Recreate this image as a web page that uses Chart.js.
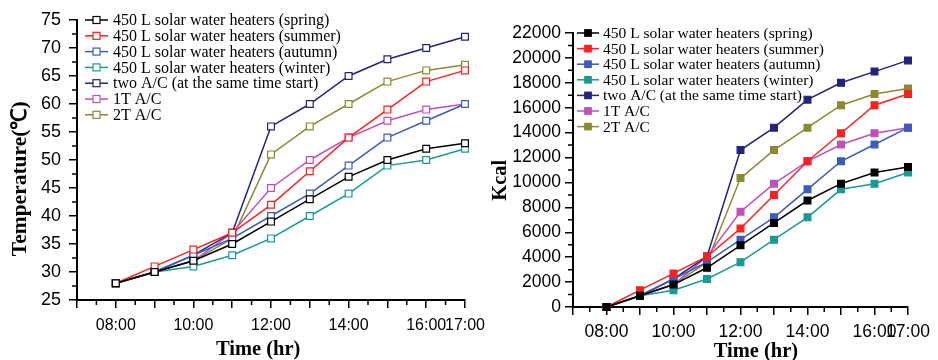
<!DOCTYPE html>
<html>
<head>
<meta charset="utf-8">
<script src="https://cdn.jsdelivr.net/npm/chart.js@4.4.1/dist/chart.umd.min.js"></script>
<style>
  body { margin: 0; background: #fff; overflow: hidden; }
  #left { position: absolute; left: 0; top: 0; width: 500px; height: 360px; }
  #right { position: absolute; left: 480px; top: 0; width: 458px; height: 360px; }
</style>
</head>
<body>
<div id="left"><canvas id="tempChart"></canvas></div>
<div id="right"><canvas id="kcalChart"></canvas></div>
<script>
// hours of the day (x values)
const hours = [8, 9, 10, 11, 12, 13, 14, 15, 16, 17];
const hourLabels = { 8: '08:00', 10: '10:00', 12: '12:00', 14: '14:00', 16: '16:00', 17: '17:00' };

const seriesNames = [
    '450 L solar water heaters (spring)',
    '450 L solar water heaters (summer)',
    '450 L solar water heaters (autumn)',
    '450 L solar water heaters (winter)',
    'two A/C (at the same time start)',
    '1T A/C',
    '2T A/C'
];
const seriesColors = ['#000000', '#ff1f1f', '#3b5bbf', '#1a9a94', '#23237e', '#c050b8', '#8a8a2e'];

// temperature (°C)
const tempSpring = [28, 30, 32, 35, 39, 43, 47, 50, 52, 53];
const tempSummer = [28, 31, 34, 37, 42, 48, 54, 59, 64, 66];
const tempAutumn = [28, 30, 33, 36, 40, 44, 49, 54, 57, 60];
const tempWinter = [28, 30, 31, 33, 36, 40, 44, 49, 50, 52];
const tempTwoAC = [28, 30, 33, 37, 56, 60, 65, 68, 70, 72];
const temp1T = [28, 30, 32, 37, 45, 50, 54, 57, 59, 60];
const temp2T = [28, 30, 32, 36, 51, 56, 60, 64, 66, 67];

// heat (Kcal)
const kcalSpring = [0, 900, 1800, 3150, 4950, 6750, 8550, 9900, 10800, 11250];
const kcalSummer = [0, 1350, 2700, 4050, 6300, 9000, 11700, 13950, 16200, 17100];
const kcalAutumn = [0, 900, 2250, 3600, 5400, 7200, 9450, 11700, 13050, 14400];
const kcalWinter = [0, 900, 1350, 2250, 3600, 5400, 7200, 9450, 9900, 10800];
const kcalTwoAC = [0, 900, 2250, 4050, 12600, 14400, 16650, 18000, 18900, 19800];
const kcal1T = [0, 900, 1800, 4050, 7650, 9900, 11700, 13050, 13950, 14400];
const kcal2T = [0, 900, 1800, 3600, 10350, 12600, 14400, 16200, 17100, 17550];

const tempSeries = [tempSpring, tempSummer, tempAutumn, tempWinter, tempTwoAC, temp1T, temp2T];
const kcalSeries = [kcalSpring, kcalSummer, kcalAutumn, kcalWinter, kcalTwoAC, kcal1T, kcal2T];

// non-breaking spaces, used to nudge the axis titles off-centre like the original
const pad = n => '\u00a0'.repeat(n);

// minor ticks between the major ones
const minorTicks = {
    id: 'minorTicks',
    afterDraw(chart, args, opts) {
        const ctx = chart.ctx;
        const xs = chart.scales.x, ys = chart.scales.y;
        ctx.save();
        ctx.strokeStyle = '#000';
        ctx.lineWidth = 1.5;
        ctx.beginPath();
        for (let v = xs.min + 0.5; v < xs.max; v += 1) {
            const px = xs.getPixelForValue(v);
            ctx.moveTo(px, xs.top);
            ctx.lineTo(px, xs.top + opts.len);
        }
        for (let v = ys.min + opts.yStep; v < ys.max; v += opts.yStep * 2) {
            const py = ys.getPixelForValue(v);
            ctx.moveTo(ys.right, py);
            ctx.lineTo(ys.right - opts.len, py);
        }
        ctx.stroke();
        ctx.restore();
    }
};

// legend drawn inside the plot area
const insideLegend = {
    id: 'insideLegend',
    afterDraw(chart, args, opts) {
        const ctx = chart.ctx;
        ctx.save();
        ctx.font = opts.font;
        ctx.textBaseline = 'middle';
        chart.data.datasets.forEach((ds, i) => {
            const y = opts.y + i * opts.rowH;
            ctx.strokeStyle = ds.borderColor;
            ctx.lineWidth = 1.5;
            ctx.beginPath();
            ctx.moveTo(opts.x, y);
            ctx.lineTo(opts.x + opts.lineLen, y);
            ctx.stroke();
            const s = opts.box;
            const cx = opts.x + opts.lineLen / 2;
            ctx.fillStyle = ds.pointBackgroundColor;
            ctx.fillRect(cx - s / 2, y - s / 2, s, s);
            ctx.lineWidth = 1.2;
            ctx.strokeRect(cx - s / 2, y - s / 2, s, s);
            ctx.fillStyle = '#000';
            ctx.fillText(ds.label, opts.x + opts.lineLen + opts.gap, y + 1);
        });
        ctx.restore();
    }
};

function makeDatasets(series, filled) {
    return series.map((vals, i) => ({
        label: seriesNames[i],
        data: hours.map((h, j) => ({ x: h, y: vals[j] })),
        borderColor: seriesColors[i],
        backgroundColor: seriesColors[i],
        pointBackgroundColor: filled ? seriesColors[i] : '#ffffff',
        pointBorderColor: seriesColors[i],
        borderWidth: 1.5,
        pointStyle: 'rect',
        pointRadius: 4.8,
        pointBorderWidth: 1.2,
        tension: 0,
        clip: false
    }));
}

function drawChart(canvasId, series, cfg) {
    const ctx = document.getElementById(canvasId).getContext('2d');
    return new Chart(ctx, {
        type: 'line',
        data: { datasets: makeDatasets(series, cfg.filled) },
        options: {
            responsive: true,
            maintainAspectRatio: false,
            animation: false,
            events: [],
            layout: { padding: cfg.padding },
            plugins: {
                legend: { display: false },
                tooltip: { enabled: false },
                minorTicks: { len: 5, yStep: cfg.yStep / 2 },
                insideLegend: cfg.legend
            },
            scales: {
                x: {
                    type: 'linear',
                    min: 7,
                    max: 17,
                    afterFit: s => { s.height = cfg.xHeight; },
                    ticks: {
                        stepSize: 1,
                        autoSkip: false,
                        maxRotation: 0,
                        padding: cfg.xPad,
                        color: '#000',
                        font: { family: 'Liberation Sans', size: cfg.xFont },
                        callback: v => hourLabels[v] || ''
                    },
                    grid: { drawOnChartArea: false, drawTicks: true, tickLength: 8, color: '#000', lineWidth: 1.5 },
                    border: { display: true, color: '#000', width: 2 },
                    title: {
                        display: true,
                        text: cfg.xTitle,
                        color: '#000',
                        font: { family: 'Liberation Serif', size: 20.5, weight: 'bold', lineHeight: 1 },
                        padding: { top: 0, bottom: cfg.xTitlePad }
                    }
                },
                y: {
                    type: 'linear',
                    min: cfg.yMin,
                    max: cfg.yMax,
                    afterFit: s => { s.width = cfg.yWidth; },
                    ticks: {
                        stepSize: cfg.yStep,
                        padding: cfg.yPad,
                        color: '#000',
                        font: { family: 'Liberation Sans', size: cfg.yFont },
                        callback: v => String(v)
                    },
                    grid: { drawOnChartArea: false, drawTicks: true, tickLength: 8, color: '#000', lineWidth: 1.5 },
                    border: { display: true, color: '#000', width: 2 },
                    title: {
                        display: true,
                        text: cfg.yTitle,
                        color: '#000',
                        font: { family: 'Liberation Serif', size: cfg.yTitleSize, weight: 'bold', lineHeight: 1 },
                        padding: { top: 10, bottom: 0 }
                    }
                }
            }
        },
        plugins: [minorTicks, insideLegend]
    });
}

drawChart('tempChart', tempSeries, {
    filled: false,
    padding: { left: 0, top: 20, right: 35, bottom: 0 },
    xHeight: 60, yWidth: 77,
    xPad: 8, yPad: 8, xFont: 16, yFont: 18, xTitlePad: 0,
    yMin: 25, yMax: 75, yStep: 5,
    xTitle: 'Time (hr)' + pad(5),
    yTitle: 'Temperature(℃)' + pad(7),
    yTitleSize: 21.5,
    legend: { x: 85, y: 20, rowH: 15.8, lineLen: 23, gap: 5, box: 7, font: '16px "Liberation Serif"' }
});

drawChart('kcalChart', kcalSeries, {
    filled: true,
    padding: { left: 0, top: 33, right: 30, bottom: 0 },
    xHeight: 53, yWidth: 93,
    xPad: 7, yPad: 4, xFont: 17.5, yFont: 17.5, xTitlePad: -2,
    yMin: 0, yMax: 22000, yStep: 2000,
    xTitle: pad(6) + 'Time (hr)',
    yTitle: 'Kcal' + pad(4),
    yTitleSize: 20.5,
    legend: { x: 97, y: 33, rowH: 15.6, lineLen: 22, gap: 4, box: 6.5, font: '15.5px "Liberation Serif"' }
});
</script>
</body>
</html>
